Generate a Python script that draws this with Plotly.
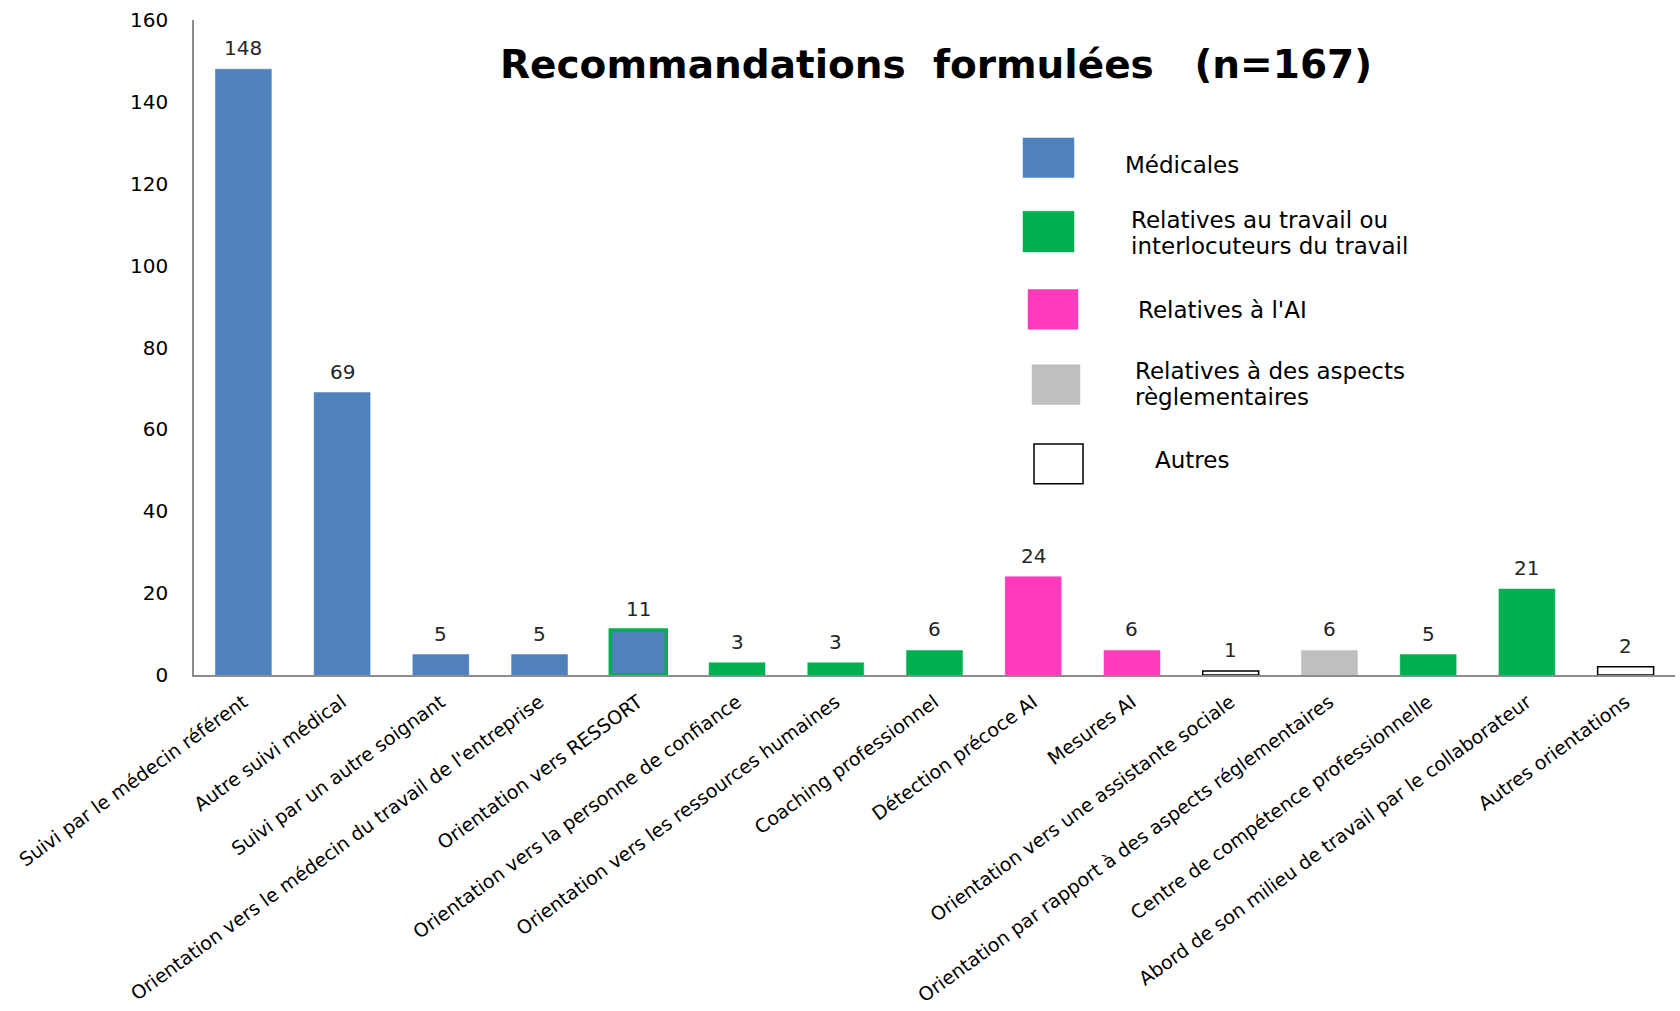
import plotly.graph_objects as go

categories = [
    "Suivi par le médecin référent",
    "Autre suivi médical",
    "Suivi par un autre soignant",
    "Orientation vers le médecin du travail de l'entreprise",
    "Orientation vers RESSORT",
    "Orientation vers la personne de confiance",
    "Orientation vers les ressources humaines",
    "Coaching professionnel",
    "Détection précoce AI",
    "Mesures AI",
    "Orientation vers une assistante sociale",
    "Orientation par rapport à des aspects réglementaires",
    "Centre de compétence professionnelle",
    "Abord de son milieu de travail par le collaborateur",
    "Autres orientations",
]
values = [148, 69, 5, 5, 11, 3, 3, 6, 24, 6, 1, 6, 5, 21, 2]
groups = ["med", "med", "med", "med", "med", "trav", "trav", "trav", "ai", "ai",
          "autre", "regl", "trav", "trav", "autre"]

legend_lines = [["Médicales"],
                ["Relatives au travail ou", "interlocuteurs du travail"],
                ["Relatives à l'AI"],
                ["Relatives à des aspects", "règlementaires"],
                ["Autres"]]
legend_keys = ["med", "trav", "ai", "regl", "autre"]

fill = {"med": "#4F81BD", "trav": "#00B050", "ai": "#FF3BBD", "regl": "#BFBFBF", "autre": "#FFFFFF"}
edge = {"med": "#4F81BD", "trav": "#00B050", "ai": "#FF3BBD", "regl": "#BFBFBF", "autre": "#000000"}

W, H = 1680, 1011
# plot area in page pixels
PX0, PX1, PY0, PY1 = 194, 1675, 20, 681
L, R, T, B = PX0, W - PX1, PY0, H - PY1
FONT = "DejaVu Sans"

bar_colors = [fill[g] for g in groups]
line_colors = [edge[g] for g in groups]
line_widths = [1.5 if g == "autre" else 0.5 for g in groups]
# RESSORT bar: blue with green outline
ressort = categories.index("Orientation vers RESSORT")
line_colors[ressort] = fill["trav"]
line_widths[ressort] = 3.5

fig = go.Figure()
fig.add_trace(go.Bar(
    x=categories, y=values,
    marker=dict(color=bar_colors, line=dict(color=line_colors, width=line_widths)),
    width=0.567,
    hoverinfo="x+y",
))

for c, v in zip(categories, values):
    fig.add_annotation(x=c, y=v, text=str(v), showarrow=False, yanchor="middle",
                       yshift=21, font=dict(family=FONT, size=20, color="#262626"))

pw = PX1 - PX0
ph = PY1 - PY0


def px(x):
    return (x - PX0) / pw


def py(y):
    return (PY1 - y) / ph


# Title
fig.add_annotation(xref="paper", yref="paper", x=px(936), y=py(65),
                   text="<b>Recommandations\u00a0\u00a0formulées\u00a0\u00a0\u00a0(n=167)</b>",
                   showarrow=False, xanchor="center", yanchor="middle",
                   font=dict(family=FONT, size=39, color="#000000"))

# Custom legend
boxes = [(1023, 139, 1074, 179), (1023, 213, 1074, 254), (1028, 292, 1078, 332),
         (1032, 368, 1080, 408), (1034, 448, 1083, 488)]
text_x = [1123, 1129, 1136, 1133, 1153]
text_y = [[166], [222, 248], [313], [374, 400], [464]]
for key, lines, (x0, y0, x1, y1), tx, tys in zip(legend_keys, legend_lines, boxes, text_x, text_y):
    fig.add_shape(type="rect", xref="paper", yref="paper",
                  x0=px(x0), x1=px(x1), y0=py(y1), y1=py(y0),
                  fillcolor=fill[key],
                  line=dict(color=edge[key] if key == "autre" else fill[key],
                            width=1.5 if key == "autre" else 0.5))
    for line, ty in zip(lines, tys):
        fig.add_annotation(xref="paper", yref="paper", x=px(tx), y=py(ty), text=line,
                           showarrow=False, xanchor="left", yanchor="middle", align="left",
                           font=dict(family=FONT, size=23, color="#000000"))

fig.update_layout(
    width=W, height=H,
    margin=dict(l=L, r=R, t=T, b=B),
    paper_bgcolor="white", plot_bgcolor="white",
    showlegend=False,
    bargap=0.433,
    font=dict(family=FONT, size=18, color="#000000"),
)
fig.update_xaxes(
    type="category", range=[-0.5, len(categories) - 0.5],
    showline=True, linecolor="#8C8C8C", linewidth=1.5,
    showgrid=False, ticks="", tickangle=-36,
    ticklabelstandoff=7,
    tickfont=dict(family=FONT, size=19, color="#000000"),
)
fig.update_yaxes(
    range=[0, 160], dtick=20, tick0=0,
    showline=True, linecolor="#8C8C8C", linewidth=1.5,
    showgrid=False, zeroline=False, ticks="",
    ticklabelstandoff=20,
    tickfont=dict(family=FONT, size=20, color="#000000"),
)

fig.write_html("out.html",
               config={"displayModeBar": False},
               post_script="document.body.style.margin='0';document.body.style.overflow='hidden';")
